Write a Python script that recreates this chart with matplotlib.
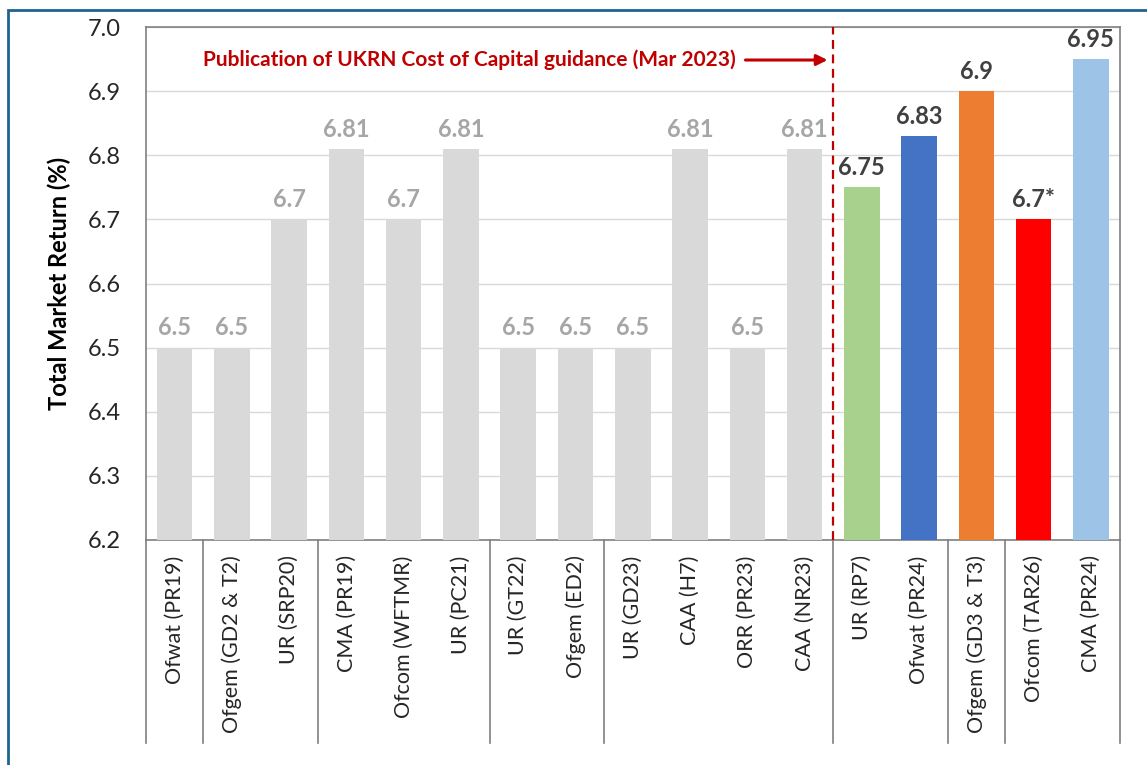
import matplotlib
matplotlib.use("Agg")
import matplotlib.pyplot as plt
from matplotlib.patches import Rectangle
from matplotlib.transforms import blended_transform_factory

plt.rcParams['font.family'] = ['Lato', 'DejaVu Sans']

decisions = ['Ofwat (PR19)', 'Ofgem (GD2 & T2)', 'UR (SRP20)', 'CMA (PR19)', 'Ofcom (WFTMR)',
             'UR (PC21)', 'UR (GT22)', 'Ofgem (ED2)', 'UR (GD23)', 'CAA (H7)', 'ORR (PR23)',
             'CAA (NR23)', 'UR (RP7)', 'Ofwat (PR24)', 'Ofgem (GD3 & T3)', 'Ofcom (TAR26)',
             'CMA (PR24)']
tmr = [6.5, 6.5, 6.7, 6.81, 6.7, 6.81, 6.5, 6.5, 6.5, 6.81, 6.5, 6.81,
       6.75, 6.83, 6.9, 6.7, 6.95]
value_labels = ['6.5', '6.5', '6.7', '6.81', '6.7', '6.81', '6.5', '6.5', '6.5', '6.81', '6.5', '6.81',
                '6.75', '6.83', '6.9', '6.7*', '6.95']
bar_colors = ['#D9D9D9'] * 12 + ['#A9D18E', '#4472C4', '#ED7D31', '#FF0000', '#9DC3E6']
label_colors = ['#A6A6A6'] * 12 + ['#404040'] * 5
group_sizes = [1, 2, 3, 2, 4, 2, 1, 2]
guidance_pos = 11.5  # UKRN guidance published between CAA (NR23) and UR (RP7)

fig = plt.figure(figsize=(11.47, 7.65), dpi=100)
ax = fig.add_axes([146 / 1147, 1 - 540 / 765, (1119.5 - 146) / 1147, (540 - 27) / 765])

x = list(range(len(decisions)))
ax.bar(x, [v - 6.2 for v in tmr], bottom=6.2, width=0.62, color=bar_colors, zorder=3)

for xi, v, lab, c in zip(x, tmr, value_labels, label_colors):
    ax.text(xi, v + 0.013, lab, ha='center', va='bottom', fontsize=17,
            fontweight='bold', color=c, zorder=4)

ax.set_xlim(-0.5, len(decisions) - 0.5)
ax.set_ylim(6.2, 7.0)
ax.set_yticks([6.2 + 0.1 * i for i in range(9)])
ax.set_yticklabels([f'{6.2 + 0.1 * i:.1f}' for i in range(9)], fontsize=17, color='#262626')
ax.set_xticks(x)
ax.set_xticklabels(decisions, rotation=90, fontsize=15.5, color='#262626')
ax.tick_params(axis='both', length=0)
ax.tick_params(axis='x', pad=11)
ax.tick_params(axis='y', pad=18)
ax.grid(axis='y', color='#D9D9D9', lw=1, zorder=0)
for s in ax.spines.values():
    s.set_color('#808080')
    s.set_linewidth(1.2)

ax.set_ylabel('Total Market Return (%)', fontsize=17, fontweight='bold', labelpad=12)

# group separators below the axis
trans = blended_transform_factory(ax.transData, ax.transAxes)
bounds = [-0.5]
for g in group_sizes:
    bounds.append(bounds[-1] + g)
for b in bounds:
    ax.plot([b, b], [0, -(743 - 540) / 513], color='#7F7F7F', lw=1.2,
            transform=trans, clip_on=False)

# UKRN guidance marker
ax.axvline(guidance_pos, color='#C00000', lw=1.6, ls=(0, (4, 2.5)), zorder=5)
ax.text(9.8, 6.9485, 'Publication of UKRN Cost of Capital guidance (Mar 2023)',
        ha='right', va='center', fontsize=15, fontweight='bold', color='#C00000')
ax.annotate('', xy=(guidance_pos - 0.05, 6.9485), xytext=(9.92, 6.9485),
            arrowprops=dict(arrowstyle='-|>', color='#C00000', lw=2.2, mutation_scale=16))

# outer frame
fig.patches.append(Rectangle((8 / 1147, -0.01), 1.2, 1 - 10 / 765 + 0.01,
                             transform=fig.transFigure, fill=False,
                             edgecolor='#1F6391', lw=2))

fig.savefig('out.png', dpi=100)
